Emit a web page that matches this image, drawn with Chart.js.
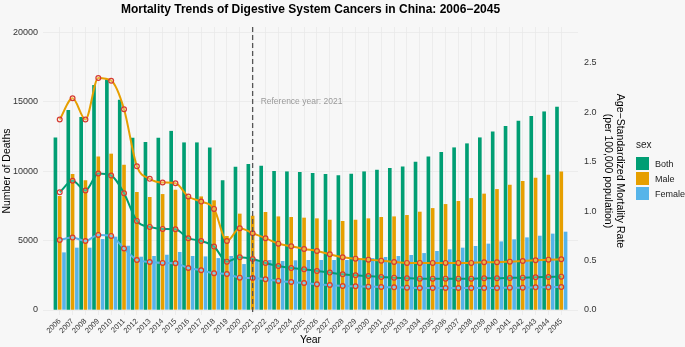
<!DOCTYPE html>
<html>
<head>
    <title>Mortality Trends of Digestive System Cancers in China</title>
    <script src="https://cdn.jsdelivr.net/npm/chart.js"></script>
    <style>
        body {
            margin: 0;
            background-color: #f7f7f7;
            font-family: "Liberation Sans", Arial, sans-serif;
        }
        .wrap {
            position: relative;
            width: 685px;
            height: 347px;
        }
        .legend {
            position: absolute;
            left: 636px;
            top: 139px;
            font-size: 9px;
            color: #222;
        }
        .legend .ttl {
            font-size: 10px;
            height: 17px;
        }
        .legend .item {
            display: flex;
            align-items: center;
            height: 15px;
        }
        .legend .box {
            width: 13px;
            height: 13px;
            margin-right: 6px;
        }
    </style>
</head>
<body>
    <div class="wrap">
        <canvas id="mortalityChart" width="685" height="347"></canvas>
        <div class="legend">
            <div class="ttl">sex</div>
            <div class="item"><div class="box" style="background:#009E73"></div>Both</div>
            <div class="item"><div class="box" style="background:#E69F00"></div>Male</div>
            <div class="item"><div class="box" style="background:#56B4E9"></div>Female</div>
        </div>
    </div>

    <script>
        const years = [2006, 2007, 2008, 2009, 2010, 2011, 2012, 2013, 2014, 2015,
                       2016, 2017, 2018, 2019, 2020, 2021, 2022, 2023, 2024, 2025,
                       2026, 2027, 2028, 2029, 2030, 2031, 2032, 2033, 2034, 2035,
                       2036, 2037, 2038, 2039, 2040, 2041, 2042, 2043, 2044, 2045];

        // number of deaths (bars, left axis)
        const deathsBoth = [12430, 14400, 13900, 16200, 16600, 15150, 12400, 12100, 12400, 12900,
                            12070, 12070, 11710, 9340, 10320, 10510, 10390, 10010, 9980, 9940,
                            9860, 9790, 9700, 9820, 9980, 10100, 10220, 10340, 10680, 11060,
                            11380, 11710, 12000, 12430, 12860, 13250, 13630, 13970, 14300, 14640];
        const deathsMale = [8210, 9790, 9340, 11060, 11260, 10460, 8500, 8140, 8350, 8660,
                            8140, 8180, 7900, 5330, 6940, 6790, 7060, 6740, 6700, 6650,
                            6600, 6500, 6410, 6500, 6600, 6700, 6740, 6840, 7080, 7340,
                            7630, 7850, 8060, 8380, 8710, 9020, 9290, 9530, 9740, 9980];
        const deathsFemale = [4150, 4490, 4490, 5110, 5280, 4630, 3840, 3890, 3980, 4180,
                              3890, 3860, 3740, 3890, 3310, 3600, 3600, 3530, 3580, 3600,
                              3600, 3600, 3600, 3670, 3740, 3820, 3890, 3960, 4100, 4250,
                              4370, 4490, 4610, 4780, 4940, 5090, 5230, 5350, 5500, 5640];

        // age-standardized mortality rate (lines, right axis)
        const rateBoth = [1.191, 1.306, 1.208, 1.380, 1.360, 1.181, 0.901, 0.840, 0.820, 0.816,
                          0.726, 0.698, 0.641, 0.489, 0.533, 0.516, 0.476, 0.445, 0.425, 0.412,
                          0.395, 0.378, 0.361, 0.351, 0.344, 0.334, 0.327, 0.321, 0.317, 0.317,
                          0.317, 0.317, 0.317, 0.321, 0.321, 0.324, 0.327, 0.331, 0.334, 0.337];
        const rateMale = [1.926, 2.140, 1.926, 2.345, 2.318, 2.030, 1.454, 1.326, 1.289, 1.282,
                          1.147, 1.096, 1.022, 0.698, 0.827, 0.776, 0.726, 0.671, 0.645, 0.617,
                          0.597, 0.564, 0.533, 0.519, 0.509, 0.499, 0.486, 0.476, 0.476, 0.476,
                          0.476, 0.476, 0.476, 0.483, 0.483, 0.489, 0.496, 0.503, 0.509, 0.513];
        const rateFemale = [0.708, 0.732, 0.698, 0.759, 0.749, 0.621, 0.506, 0.486, 0.476, 0.472,
                            0.425, 0.402, 0.371, 0.364, 0.327, 0.324, 0.310, 0.294, 0.283, 0.273,
                            0.260, 0.253, 0.243, 0.240, 0.236, 0.233, 0.229, 0.226, 0.223, 0.223,
                            0.223, 0.223, 0.223, 0.223, 0.223, 0.226, 0.226, 0.229, 0.229, 0.233];

        const deathTicks = [0, 5000, 10000, 15000, 20000];
        const rateTicks = [0, 0.5, 1.0, 1.5, 2.0, 2.5];

        const refYear = 2021;
        const refLabel = 'Reference year: 2021';
        const refLabelAt = 15000;

        const colors = { both: '#009E73', male: '#E69F00', female: '#56B4E9' };
        const fontFamily = '"Liberation Sans", Arial, sans-serif';
        const pointRing = '#d63a30';
        const secScale = 7124;   // deaths per unit of rate on the secondary axis

        const toPoints = arr => years.map((yr, i) => ({ x: yr, y: arr[i] }));

        function barSet(label, arr, color) {
            return {
                type: 'bar',
                label: label,
                data: toPoints(arr),
                backgroundColor: color,
                yAxisID: 'y',
                order: 2,
                categoryPercentage: 1.0,
                barPercentage: 0.85
            };
        }

        function lineSet(label, arr, color) {
            return {
                type: 'line',
                label: label,
                data: toPoints(arr),
                borderColor: color,
                borderWidth: 2,
                backgroundColor: color,
                pointBackgroundColor: 'rgba(255, 255, 255, 0.25)',
                pointBorderColor: pointRing,
                pointBorderWidth: 1.2,
                pointRadius: 2.4,
                cubicInterpolationMode: 'monotone',
                yAxisID: 'y2',
                order: 1
            };
        }

        const refLine = {
            id: 'refLine',
            afterDatasetsDraw(chart) {
                const { ctx, chartArea, scales } = chart;
                const x = scales.x.getPixelForValue(refYear);
                ctx.save();
                ctx.strokeStyle = '#555';
                ctx.lineWidth = 1.3;
                ctx.setLineDash([5, 3]);
                ctx.beginPath();
                ctx.moveTo(x, chartArea.top);
                ctx.lineTo(x, chartArea.bottom);
                ctx.stroke();
                ctx.setLineDash([]);
                ctx.fillStyle = '#9a9a9a';
                ctx.font = '8.5px ' + fontFamily;
                ctx.textBaseline = 'middle';
                ctx.fillText(refLabel, x + 8, scales.y.getPixelForValue(refLabelAt));
                ctx.restore();
            }
        };

        const ctx = document.getElementById('mortalityChart').getContext('2d');

        new Chart(ctx, {
            type: 'bar',
            data: {
                datasets: [
                    lineSet('Both rate', rateBoth, colors.both),
                    lineSet('Male rate', rateMale, colors.male),
                    lineSet('Female rate', rateFemale, colors.female),
                    barSet('Both', deathsBoth, colors.both),
                    barSet('Male', deathsMale, colors.male),
                    barSet('Female', deathsFemale, colors.female)
                ]
            },
            plugins: [refLine],
            options: {
                responsive: false,
                animation: false,
                layout: { padding: { left: 0, right: 58, top: 0, bottom: 0 } },
                plugins: {
                    legend: { display: false },
                    tooltip: { enabled: false },
                    title: {
                        display: true,
                        text: 'Mortality Trends of Digestive System Cancers in China: 2006\u22122045',
                        fullSize: false,
                        color: '#000',
                        font: { family: fontFamily, size: 12, weight: 'bold' },
                        padding: { top: 2, bottom: 10.6 }
                    }
                },
                scales: {
                    x: {
                        type: 'linear',
                        min: 2004.7,
                        max: 2046.3,
                        offset: false,
                        afterBuildTicks: s => { s.ticks = years.map(v => ({ value: v })); },
                        afterFit: s => { s.height = 32; },
                        ticks: {
                            autoSkip: false,
                            minRotation: 45,
                            maxRotation: 45,
                            padding: 2,
                            color: '#333',
                            font: { family: fontFamily, size: 7.5 },
                            callback: v => String(v)
                        },
                        grid: { offset: false, color: '#e6e6e6', lineWidth: 0.7, drawTicks: false },
                        border: { display: false },
                        title: {
                            display: true,
                            text: 'Year',
                            color: '#000',
                            font: { family: fontFamily, size: 10.5 },
                            padding: { top: 0, bottom: 0.7 }
                        }
                    },
                    y: {
                        position: 'left',
                        min: -360,
                        max: 20382,
                        afterBuildTicks: s => { s.ticks = deathTicks.map(v => ({ value: v })); },
                        afterFit: s => { s.width = 43; },
                        ticks: {
                            padding: 5,
                            color: '#333',
                            font: { family: fontFamily, size: 9 },
                            callback: v => String(v)
                        },
                        grid: { color: '#e6e6e6', lineWidth: 0.7, drawTicks: false },
                        border: { display: false },
                        title: {
                            display: true,
                            text: 'Number of Deaths',
                            color: '#000',
                            font: { family: fontFamily, size: 10.5 },
                            padding: { top: 1, bottom: 0 }
                        }
                    },
                    y2: {
                        position: 'right',
                        min: -360 / secScale,
                        max: 20382 / secScale,
                        afterBuildTicks: s => { s.ticks = rateTicks.map(v => ({ value: v })); },
                        afterFit: s => { s.width = 49; },
                        ticks: {
                            padding: 6,
                            color: '#333',
                            font: { family: fontFamily, size: 9 },
                            callback: v => v.toFixed(1)
                        },
                        grid: { display: false, drawTicks: false },
                        border: { display: false },
                        title: {
                            display: true,
                            text: ['Age\u2212Standardized Mortality Rate', '(per 100,000 population)'],
                            color: '#000',
                            font: { family: fontFamily, size: 10.5 },
                            padding: { top: 0.7, bottom: 0 }
                        }
                    }
                }
            }
        });
    </script>
</body>
</html>
